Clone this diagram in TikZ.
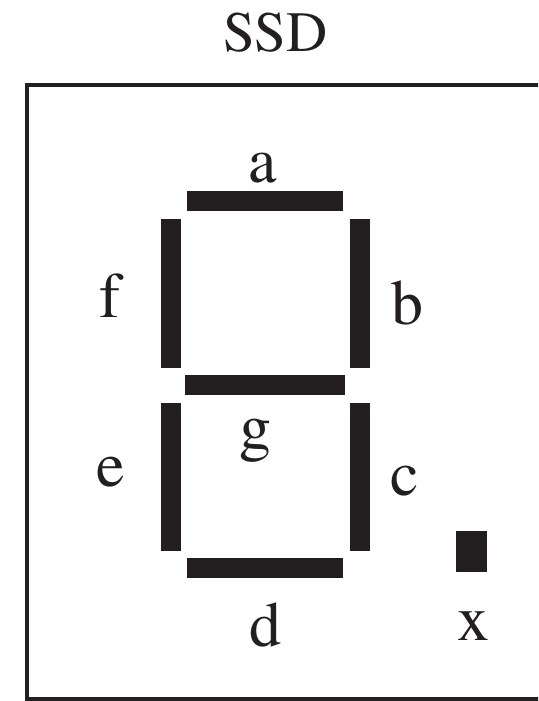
\documentclass[tikz,border=0pt]{standalone}
\usepackage{fontspec}
\setmainfont{texgyretermes-regular.otf}
\definecolor{ink}{RGB}{35,31,32}
\begin{document}
\begin{tikzpicture}[x=1pt,y=-1pt,
  seg/.style={fill=ink},
  lbl/.style={anchor=base,inner sep=0pt,text=ink,font=\rmfamily\fontsize{64}{70}\selectfont},
  ttl/.style={anchor=base,inner sep=0pt,text=ink,font=\rmfamily\fontsize{57}{64}\selectfont}]
\useasboundingbox (0,0) rectangle (538,701);
\clip (0,0) rectangle (538,701);
\fill[white] (0,0) rectangle (538,701);
% frame
\draw[ink,line width=4pt] (27,85) rectangle (570,699);
% title
\node[ttl] (title) at (275.5,52) {SSD};
% segments
\fill[seg] (187,191) rectangle (343,211); % a
\fill[seg] (161,219) rectangle (181,368); % f
\fill[seg] (350,219) rectangle (370,368); % b
\fill[seg] (185,375) rectangle (345,395); % g
\fill[seg] (161,403) rectangle (181,551); % e
\fill[seg] (350,403) rectangle (370,551); % c
\fill[seg] (187,558) rectangle (343,578); % d
\fill[seg] (456,531) rectangle (487,572); % x
% labels
\node[lbl] (la) at (262.5,182) {a};
\node[lbl] (lf) at (110,317) {f};
\node[lbl] (lb) at (407.5,324) {b};
\node[lbl] (lg) at (255.5,448) {g};
\node[lbl] (le) at (111,486) {e};
\node[lbl] (lc) at (405,495) {c};
\node[lbl] (ld) at (265,646) {d};
\node[lbl] (lx) at (473.5,640) {x};
\end{tikzpicture}
\end{document}
